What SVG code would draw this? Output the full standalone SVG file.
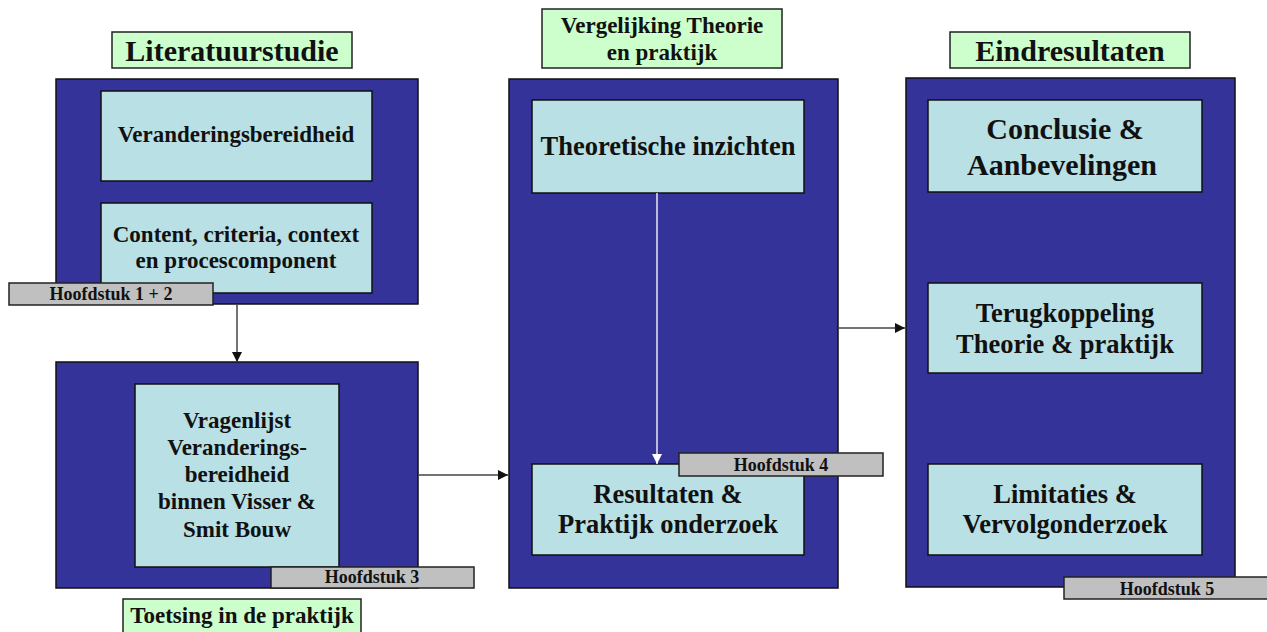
<svg xmlns="http://www.w3.org/2000/svg" width="1267" height="632" viewBox="0 0 1267 632">
<style>
text{font-family:"Liberation Serif","Times New Roman",serif;font-weight:bold;fill:#111;text-anchor:middle}
.outer{fill:#333399;stroke:#111;stroke-width:1.5}
.inner{fill:#b9e0e4;stroke:#111;stroke-width:1.5}
.title{fill:#ccffcc;stroke:#222;stroke-width:1.5}
.hs{fill:#c0c0c0;stroke:#222;stroke-width:1.5}
.t30{font-size:30px}
.t23{font-size:23px}
.t26{font-size:26.5px}
.t18{font-size:18px;font-weight:bold}
.conn{stroke:#444;stroke-width:1.5;fill:none}
.connw{stroke:#e8e8f0;stroke-width:1.5;fill:none}
</style>
<defs>
<marker id="ah" viewBox="0 0 10 10" refX="10" refY="5" markerWidth="10" markerHeight="10" markerUnits="userSpaceOnUse" orient="auto"><path d="M0,0 L10,5 L0,10 z" fill="#111"/></marker>
<marker id="ahw" viewBox="0 0 10 10" refX="10" refY="5" markerWidth="10" markerHeight="10" markerUnits="userSpaceOnUse" orient="auto"><path d="M0,0 L10,5 L0,10 z" fill="#fff"/></marker>
</defs>

<g id="title-literatuurstudie"><rect class="title" x="112" y="32" width="240" height="36"/><text class="t30" x="232" y="61">Literatuurstudie</text></g>
<g id="title-vergelijking"><rect class="title" x="542" y="9" width="240" height="59"/><text class="t23" x="662" y="33">Vergelijking Theorie</text><text class="t23" x="662" y="60">en praktijk</text></g>
<g id="title-eindresultaten"><rect class="title" x="950" y="32" width="240" height="36"/><text class="t30" x="1070" y="61">Eindresultaten</text></g>

<g id="box-literatuur">
<rect class="outer" x="56" y="79" width="362" height="225"/>
<rect class="inner" x="101" y="91" width="271" height="90"/>
<text class="t23" x="236" y="142">Veranderingsbereidheid</text>
<rect class="inner" x="101" y="203" width="271" height="90"/>
<text class="t23" x="236" y="242">Content, criteria, context</text>
<text class="t23" x="236" y="268">en procescomponent</text>
</g>
<g id="hs12"><rect class="hs" x="9" y="283" width="204" height="22"/><text class="t18" x="111" y="300">Hoofdstuk 1 + 2</text></g>

<g id="box-toetsing">
<rect class="outer" x="56" y="362" width="362" height="226"/>
<rect class="inner" x="135" y="384" width="204" height="183"/>
<text class="t23" x="237" y="428">Vragenlijst</text>
<text class="t23" x="237" y="455">Veranderings-</text>
<text class="t23" x="237" y="482">bereidheid</text>
<text class="t23" x="237" y="509">binnen Visser &amp;</text>
<text class="t23" x="237" y="537">Smit Bouw</text>
</g>
<g id="hs3"><rect class="hs" x="271" y="567" width="203" height="21"/><text class="t18" x="372" y="583">Hoofdstuk 3</text></g>
<g id="title-toetsing"><rect class="title" x="123" y="599" width="238" height="40"/><text class="t23" x="242" y="623">Toetsing in de praktijk</text></g>

<g id="box-vergelijking">
<rect class="outer" x="509" y="79" width="329" height="509"/>
<rect class="inner" x="532" y="100" width="272" height="93"/>
<text class="t26" x="668" y="155">Theoretische inzichten</text>
<rect class="inner" x="532" y="464" width="272" height="91"/>
<text class="t26" x="668" y="503">Resultaten &amp;</text>
<text class="t26" x="668" y="533">Praktijk onderzoek</text>
</g>

<g id="box-eind">
<rect class="outer" x="906" y="78" width="329" height="509"/>
<rect class="inner" x="928" y="100" width="274" height="92"/>
<text class="t30" x="1065" y="139">Conclusie &amp;</text>
<text class="t30" x="1062" y="175">Aanbevelingen</text>
<rect class="inner" x="928" y="283" width="274" height="90"/>
<text class="t26" x="1065" y="322">Terugkoppeling</text>
<text class="t26" x="1065" y="353">Theorie &amp; praktijk</text>
<rect class="inner" x="928" y="464" width="274" height="91"/>
<text class="t26" x="1065" y="503">Limitaties &amp;</text>
<text class="t26" x="1065" y="533">Vervolgonderzoek</text>
</g>
<g id="hs5"><rect class="hs" x="1064" y="577" width="210" height="22"/><text class="t18" x="1167" y="595">Hoofdstuk 5</text></g>

<g id="connectors">
<line class="conn" x1="237" y1="305" x2="237" y2="362" marker-end="url(#ah)"/>
<line class="conn" x1="418" y1="475" x2="508" y2="475" marker-end="url(#ah)"/>
<line class="connw" x1="657" y1="193" x2="657" y2="464" marker-end="url(#ahw)"/>
<line class="conn" x1="838" y1="328" x2="905" y2="328" marker-end="url(#ah)"/>
</g>
<g id="hs4"><rect class="hs" x="679" y="453" width="204" height="23"/><text class="t18" x="781" y="471">Hoofdstuk 4</text></g>
</svg>
